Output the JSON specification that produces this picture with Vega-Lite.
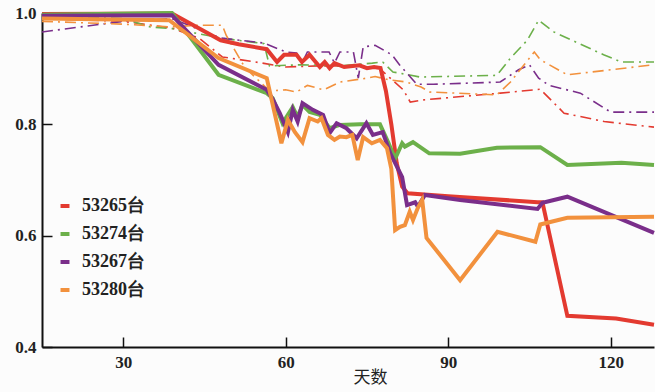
{
  "$schema": "https://vega.github.io/schema/vega-lite/v6.json",
  "width": 612,
  "height": 334,
  "autosize": "none",
  "padding": {"left": 42, "top": 13, "right": 1, "bottom": 45},
  "background": "#fcfcfc",
  "config": {
    "view": {"stroke": null},
    "font": "Liberation Serif"
  },
  "datasets": {
    "solid": [
      {"s": "53265台", "d": 15, "v": 0.998}, {"s": "53265台", "d": 39, "v": 0.999}, {"s": "53265台", "d": 48, "v": 0.951}, {"s": "53265台", "d": 51.3, "v": 0.944}, {"s": "53265台", "d": 56.5, "v": 0.935}, {"s": "53265台", "d": 58.4, "v": 0.912}, {"s": "53265台", "d": 59.7, "v": 0.925}, {"s": "53265台", "d": 62, "v": 0.925}, {"s": "53265台", "d": 63, "v": 0.912}, {"s": "53265台", "d": 64.4, "v": 0.925}, {"s": "53265台", "d": 66.3, "v": 0.903}, {"s": "53265台", "d": 67.2, "v": 0.912}, {"s": "53265台", "d": 68.1, "v": 0.901}, {"s": "53265台", "d": 69, "v": 0.91}, {"s": "53265台", "d": 70.8, "v": 0.903}, {"s": "53265台", "d": 73.6, "v": 0.906}, {"s": "53265台", "d": 75, "v": 0.901}, {"s": "53265台", "d": 76.3, "v": 0.903}, {"s": "53265台", "d": 77.5, "v": 0.901}, {"s": "53265台", "d": 78.5, "v": 0.86}, {"s": "53265台", "d": 79.5, "v": 0.8}, {"s": "53265台", "d": 80.5, "v": 0.73}, {"s": "53265台", "d": 81.5, "v": 0.688}, {"s": "53265台", "d": 82.5, "v": 0.676}, {"s": "53265台", "d": 90, "v": 0.671}, {"s": "53265台", "d": 106.5, "v": 0.66}, {"s": "53265台", "d": 107.4, "v": 0.66}, {"s": "53265台", "d": 112, "v": 0.456}, {"s": "53265台", "d": 121, "v": 0.451}, {"s": "53265台", "d": 128, "v": 0.44},
      {"s": "53274台", "d": 15, "v": 0.997}, {"s": "53274台", "d": 39, "v": 1.0}, {"s": "53274台", "d": 47.6, "v": 0.889}, {"s": "53274台", "d": 56.5, "v": 0.856}, {"s": "53274台", "d": 57.6, "v": 0.847}, {"s": "53274台", "d": 59.4, "v": 0.802}, {"s": "53274台", "d": 61.3, "v": 0.831}, {"s": "53274台", "d": 62.2, "v": 0.813}, {"s": "53274台", "d": 63.1, "v": 0.835}, {"s": "53274台", "d": 64.4, "v": 0.822}, {"s": "53274台", "d": 66.3, "v": 0.817}, {"s": "53274台", "d": 68.1, "v": 0.793}, {"s": "53274台", "d": 70, "v": 0.799}, {"s": "53274台", "d": 73.7, "v": 0.8}, {"s": "53274台", "d": 77.4, "v": 0.8}, {"s": "53274台", "d": 78.9, "v": 0.768}, {"s": "53274台", "d": 80.2, "v": 0.738}, {"s": "53274台", "d": 81.5, "v": 0.766}, {"s": "53274台", "d": 82, "v": 0.76}, {"s": "53274台", "d": 83.5, "v": 0.768}, {"s": "53274台", "d": 86.5, "v": 0.748}, {"s": "53274台", "d": 92.2, "v": 0.747}, {"s": "53274台", "d": 99, "v": 0.758}, {"s": "53274台", "d": 107, "v": 0.759}, {"s": "53274台", "d": 112, "v": 0.727}, {"s": "53274台", "d": 122, "v": 0.731}, {"s": "53274台", "d": 128, "v": 0.727},
      {"s": "53267台", "d": 15, "v": 0.995}, {"s": "53267台", "d": 39, "v": 0.996}, {"s": "53267台", "d": 47.6, "v": 0.907}, {"s": "53267台", "d": 56.5, "v": 0.862}, {"s": "53267台", "d": 57.6, "v": 0.845}, {"s": "53267台", "d": 58.9, "v": 0.82}, {"s": "53267台", "d": 60.4, "v": 0.786}, {"s": "53267台", "d": 61.3, "v": 0.826}, {"s": "53267台", "d": 62.2, "v": 0.805}, {"s": "53267台", "d": 63.1, "v": 0.838}, {"s": "53267台", "d": 65, "v": 0.826}, {"s": "53267台", "d": 66.9, "v": 0.817}, {"s": "53267台", "d": 68.1, "v": 0.784}, {"s": "53267台", "d": 69.4, "v": 0.802}, {"s": "53267台", "d": 71.2, "v": 0.793}, {"s": "53267台", "d": 73.1, "v": 0.775}, {"s": "53267台", "d": 74.9, "v": 0.802}, {"s": "53267台", "d": 76.1, "v": 0.781}, {"s": "53267台", "d": 77.9, "v": 0.786}, {"s": "53267台", "d": 79.3, "v": 0.748}, {"s": "53267台", "d": 81.5, "v": 0.705}, {"s": "53267台", "d": 82.4, "v": 0.655}, {"s": "53267台", "d": 83.9, "v": 0.66}, {"s": "53267台", "d": 84.4, "v": 0.652}, {"s": "53267台", "d": 85.7, "v": 0.673}, {"s": "53267台", "d": 92.2, "v": 0.664}, {"s": "53267台", "d": 106.5, "v": 0.648}, {"s": "53267台", "d": 107.4, "v": 0.659}, {"s": "53267台", "d": 112, "v": 0.67}, {"s": "53267台", "d": 128, "v": 0.605},
      {"s": "53280台", "d": 15, "v": 0.99}, {"s": "53280台", "d": 38.5, "v": 0.987}, {"s": "53280台", "d": 47.6, "v": 0.919}, {"s": "53280台", "d": 56.5, "v": 0.883}, {"s": "53280台", "d": 59.2, "v": 0.766}, {"s": "53280台", "d": 60.4, "v": 0.808}, {"s": "53280台", "d": 61.7, "v": 0.786}, {"s": "53280台", "d": 63.1, "v": 0.768}, {"s": "53280台", "d": 64.4, "v": 0.811}, {"s": "53280台", "d": 65.9, "v": 0.805}, {"s": "53280台", "d": 66.6, "v": 0.811}, {"s": "53280台", "d": 67.8, "v": 0.781}, {"s": "53280台", "d": 69, "v": 0.772}, {"s": "53280台", "d": 70, "v": 0.778}, {"s": "53280台", "d": 71.2, "v": 0.777}, {"s": "53280台", "d": 72.3, "v": 0.781}, {"s": "53280台", "d": 73.3, "v": 0.736}, {"s": "53280台", "d": 74.3, "v": 0.777}, {"s": "53280台", "d": 75.9, "v": 0.766}, {"s": "53280台", "d": 77.4, "v": 0.772}, {"s": "53280台", "d": 78.7, "v": 0.757}, {"s": "53280台", "d": 79.5, "v": 0.72}, {"s": "53280台", "d": 80.2, "v": 0.61}, {"s": "53280台", "d": 81.1, "v": 0.616}, {"s": "53280台", "d": 82, "v": 0.619}, {"s": "53280台", "d": 82.9, "v": 0.643}, {"s": "53280台", "d": 83.5, "v": 0.628}, {"s": "53280台", "d": 84.4, "v": 0.65}, {"s": "53280台", "d": 85.2, "v": 0.664}, {"s": "53280台", "d": 86, "v": 0.596}, {"s": "53280台", "d": 92.2, "v": 0.52}, {"s": "53280台", "d": 99.1, "v": 0.607}, {"s": "53280台", "d": 106.1, "v": 0.589}, {"s": "53280台", "d": 107, "v": 0.62}, {"s": "53280台", "d": 112, "v": 0.632}, {"s": "53280台", "d": 128, "v": 0.634}
    ],
    "dash": [
      {"s": "53265台", "d": 15, "v": 0.99}, {"s": "53265台", "d": 30, "v": 0.985}, {"s": "53265台", "d": 39, "v": 0.973}, {"s": "53265台", "d": 44, "v": 0.955}, {"s": "53265台", "d": 48.3, "v": 0.921}, {"s": "53265台", "d": 54.4, "v": 0.912}, {"s": "53265台", "d": 60, "v": 0.903}, {"s": "53265台", "d": 66, "v": 0.905}, {"s": "53265台", "d": 72, "v": 0.905}, {"s": "53265台", "d": 77, "v": 0.903}, {"s": "53265台", "d": 79.3, "v": 0.883}, {"s": "53265台", "d": 81.7, "v": 0.862}, {"s": "53265台", "d": 83, "v": 0.84}, {"s": "53265台", "d": 85.5, "v": 0.844}, {"s": "53265台", "d": 99.6, "v": 0.856}, {"s": "53265台", "d": 107, "v": 0.863}, {"s": "53265台", "d": 111.4, "v": 0.82}, {"s": "53265台", "d": 118.8, "v": 0.805}, {"s": "53265台", "d": 128, "v": 0.795},
      {"s": "53274台", "d": 15, "v": 0.995}, {"s": "53274台", "d": 30, "v": 0.99}, {"s": "53274台", "d": 35, "v": 0.975}, {"s": "53274台", "d": 39, "v": 0.972}, {"s": "53274台", "d": 48, "v": 0.955}, {"s": "53274台", "d": 56, "v": 0.945}, {"s": "53274台", "d": 57, "v": 0.905}, {"s": "53274台", "d": 63, "v": 0.907}, {"s": "53274台", "d": 70, "v": 0.905}, {"s": "53274台", "d": 76, "v": 0.91}, {"s": "53274台", "d": 77.9, "v": 0.912}, {"s": "53274台", "d": 79.8, "v": 0.894}, {"s": "53274台", "d": 81, "v": 0.892}, {"s": "53274台", "d": 84.8, "v": 0.885}, {"s": "53274台", "d": 99, "v": 0.888}, {"s": "53274台", "d": 101.5, "v": 0.919}, {"s": "53274台", "d": 104.6, "v": 0.951}, {"s": "53274台", "d": 106.7, "v": 0.987}, {"s": "53274台", "d": 109.5, "v": 0.966}, {"s": "53274台", "d": 118.7, "v": 0.925}, {"s": "53274台", "d": 122, "v": 0.912}, {"s": "53274台", "d": 128, "v": 0.912},
      {"s": "53267台", "d": 15, "v": 0.966}, {"s": "53267台", "d": 30, "v": 0.985}, {"s": "53267台", "d": 39, "v": 0.99}, {"s": "53267台", "d": 48, "v": 0.955}, {"s": "53267台", "d": 56, "v": 0.946}, {"s": "53267台", "d": 60, "v": 0.93}, {"s": "53267台", "d": 62, "v": 0.928}, {"s": "53267台", "d": 63, "v": 0.91}, {"s": "53267台", "d": 64, "v": 0.93}, {"s": "53267台", "d": 68, "v": 0.93}, {"s": "53267台", "d": 69, "v": 0.91}, {"s": "53267台", "d": 70, "v": 0.93}, {"s": "53267台", "d": 72.5, "v": 0.93}, {"s": "53267台", "d": 73.4, "v": 0.883}, {"s": "53267台", "d": 74.3, "v": 0.939}, {"s": "53267台", "d": 76.5, "v": 0.942}, {"s": "53267台", "d": 79.6, "v": 0.925}, {"s": "53267台", "d": 81, "v": 0.907}, {"s": "53267台", "d": 84.2, "v": 0.872}, {"s": "53267台", "d": 87.3, "v": 0.872}, {"s": "53267台", "d": 99.6, "v": 0.876}, {"s": "53267台", "d": 103, "v": 0.898}, {"s": "53267台", "d": 105, "v": 0.907}, {"s": "53267台", "d": 106.7, "v": 0.883}, {"s": "53267台", "d": 108.6, "v": 0.87}, {"s": "53267台", "d": 114.4, "v": 0.856}, {"s": "53267台", "d": 120, "v": 0.822}, {"s": "53267台", "d": 128, "v": 0.822},
      {"s": "53280台", "d": 15, "v": 0.985}, {"s": "53280台", "d": 30, "v": 0.98}, {"s": "53280台", "d": 39, "v": 0.975}, {"s": "53280台", "d": 43.5, "v": 0.978}, {"s": "53280台", "d": 48.3, "v": 0.978}, {"s": "53280台", "d": 49, "v": 0.96}, {"s": "53280台", "d": 52.4, "v": 0.903}, {"s": "53280台", "d": 57, "v": 0.86}, {"s": "53280台", "d": 60, "v": 0.862}, {"s": "53280台", "d": 62, "v": 0.858}, {"s": "53280台", "d": 64, "v": 0.87}, {"s": "53280台", "d": 67, "v": 0.862}, {"s": "53280台", "d": 70, "v": 0.876}, {"s": "53280台", "d": 75, "v": 0.883}, {"s": "53280台", "d": 76.5, "v": 0.886}, {"s": "53280台", "d": 79, "v": 0.88}, {"s": "53280台", "d": 82.3, "v": 0.876}, {"s": "53280台", "d": 85, "v": 0.867}, {"s": "53280台", "d": 86.6, "v": 0.858}, {"s": "53280台", "d": 99, "v": 0.853}, {"s": "53280台", "d": 101.5, "v": 0.876}, {"s": "53280台", "d": 105.9, "v": 0.93}, {"s": "53280台", "d": 107, "v": 0.916}, {"s": "53280台", "d": 112, "v": 0.889}, {"s": "53280台", "d": 128, "v": 0.907}
    ]
  },
  "encoding": {
    "x": {
      "field": "d", "type": "quantitative",
      "scale": {"domain": [15, 128], "nice": false, "zero": false},
      "axis": {
        "title": "天数", "values": [30, 60, 90, 120], "grid": false,
        "domainColor": "#111", "domainWidth": 2, "tickColor": "#111", "tickWidth": 1.5, "tickSize": -10,
        "labelPadding": 17, "labelFont": "Liberation Serif", "labelFontSize": 17, "labelFontWeight": "bold", "labelColor": "#222",
        "titleFont": "Noto Sans CJK SC", "titleFontSize": 17, "titleFontWeight": "normal", "titleColor": "#222",
        "titleX": 328, "titleY": 22, "titleBaseline": "top", "titleAnchor": "middle"
      }
    },
    "y": {
      "field": "v", "type": "quantitative",
      "scale": {"domain": [0.4, 1.0], "nice": false, "zero": false},
      "axis": {
        "title": null, "values": [0.4, 0.6, 0.8, 1.0], "format": ".1f", "grid": false,
        "domainColor": "#111", "domainWidth": 2, "tickColor": "#111", "tickWidth": 1.5, "tickSize": -10,
        "labelPadding": 16, "labelFont": "Liberation Serif", "labelFontSize": 17, "labelFontWeight": "bold", "labelColor": "#222"
      }
    },
    "color": {
      "field": "s", "type": "nominal",
      "scale": {"domain": ["53265台", "53274台", "53267台", "53280台"], "range": ["#e33a30", "#6cb04a", "#7a2e8a", "#f2913d"]},
      "legend": {
        "title": null, "orient": "none", "legendX": 14, "legendY": 184,
        "symbolType": "stroke", "symbolStrokeWidth": 4, "symbolSize": 80,
        "labelFont": "Liberation Serif", "labelFontSize": 18, "labelFontWeight": "bold", "labelColor": "#222",
        "rowPadding": 10, "labelOffset": 8
      }
    }
  },
  "layer": [
    {
      "data": {"name": "dash"},
      "mark": {"type": "line", "strokeWidth": 1.6, "strokeDash": [11, 5, 2, 5]}
    },
    {
      "data": {"name": "solid"},
      "mark": {"type": "line", "strokeWidth": 4, "strokeJoin": "miter"}
    }
  ]
}
